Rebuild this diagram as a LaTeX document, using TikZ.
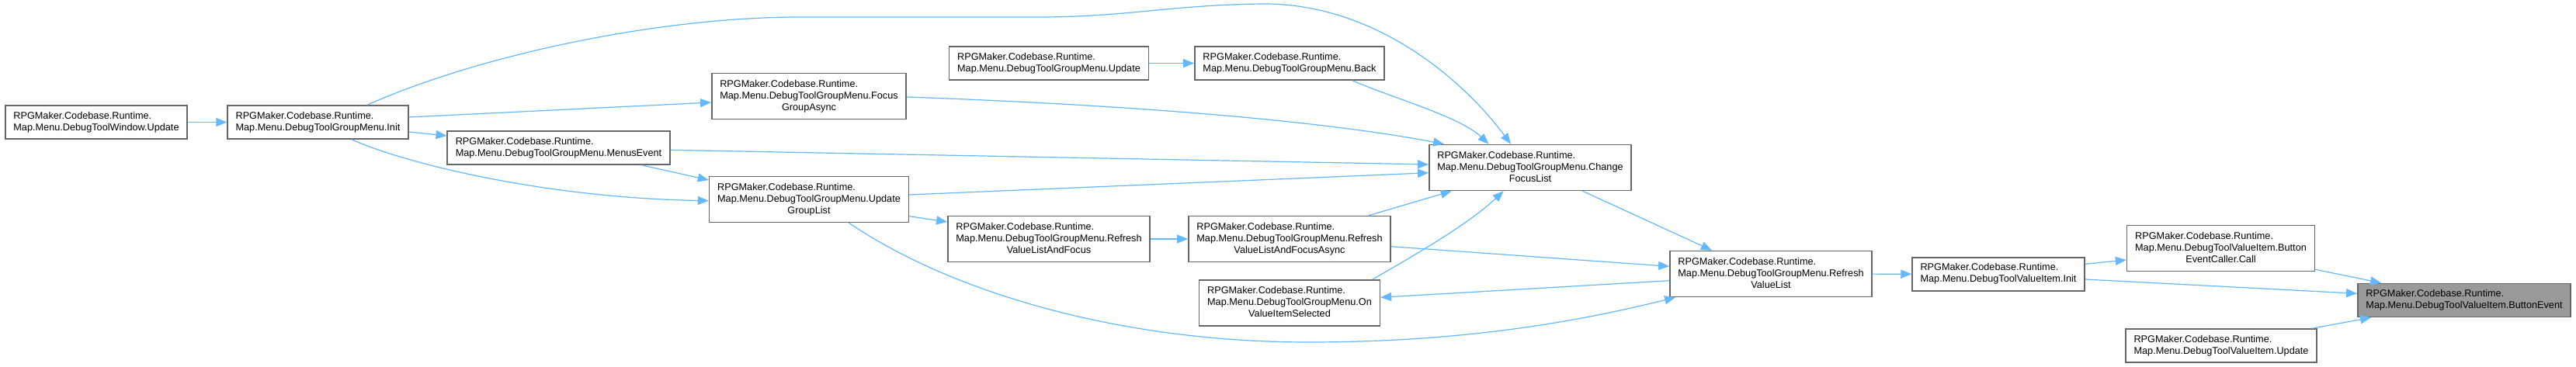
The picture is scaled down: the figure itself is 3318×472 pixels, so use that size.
\documentclass[tikz,border=0pt]{standalone}
\usepackage{fontspec}
\setmainfont{Liberation Sans}
\usepackage{xcolor}
\usepackage{tikz}
\usetikzlibrary{arrows.meta}
\definecolor{edgeblue}{HTML}{63B8FF}
\definecolor{boxgray}{HTML}{666666}
\definecolor{hlgray}{HTML}{999999}
\newcommand{\fnlines}[1]{\begin{tabular}{@{}l@{}}#1\end{tabular}}
\newcommand{\lastc}[1]{\multicolumn{1}{@{}c@{}}{#1}}

\begin{document}
\begin{tikzpicture}[x=1pt,y=-1pt,
    fn/.style={draw=boxgray,line width=1.6pt,fill=white,inner xsep=10.5pt,inner ysep=5pt,minimum height=43pt,font=\fontsize{12.7}{15}\selectfont},
    tall/.style={minimum height=59pt},
    hl/.style={fill=hlgray},
    call/.style={-{Triangle[length=14pt,width=11pt]},line width=1.2pt,draw=edgeblue}]
   \path[use as bounding box,fill=white] (0,0) rectangle (3318,472);
   % callers, left to right
   \node[fn] (wu) at (124,157.5) {\fnlines{RPGMaker.Codebase.Runtime.\\Map.Menu.DebugToolWindow.Update}};
   \node[fn] (init) at (409.5,157.5) {\fnlines{RPGMaker.Codebase.Runtime.\\Map.Menu.DebugToolGroupMenu.Init}};
   \node[fn] (me) at (719.5,190.5) {\fnlines{RPGMaker.Codebase.Runtime.\\Map.Menu.DebugToolGroupMenu.MenusEvent}};
   \node[fn,tall] (fga) at (1042,124) {\fnlines{RPGMaker.Codebase.Runtime.\\Map.Menu.DebugToolGroupMenu.Focus\\\lastc{GroupAsync}}};
   \node[fn,tall] (ugl) at (1042,257) {\fnlines{RPGMaker.Codebase.Runtime.\\Map.Menu.DebugToolGroupMenu.Update\\\lastc{GroupList}}};
   \node[fn] (gmu) at (1351,81.5) {\fnlines{RPGMaker.Codebase.Runtime.\\Map.Menu.DebugToolGroupMenu.Update}};
   \node[fn] (back) at (1661,81.5) {\fnlines{RPGMaker.Codebase.Runtime.\\Map.Menu.DebugToolGroupMenu.Back}};
   \node[fn,tall] (rvlaf) at (1351,308) {\fnlines{RPGMaker.Codebase.Runtime.\\Map.Menu.DebugToolGroupMenu.Refresh\\\lastc{ValueListAndFocus}}};
   \node[fn,tall] (rvlafa) at (1661,308) {\fnlines{RPGMaker.Codebase.Runtime.\\Map.Menu.DebugToolGroupMenu.Refresh\\\lastc{ValueListAndFocusAsync}}};
   \node[fn,tall] (ovis) at (1661,390.5) {\fnlines{RPGMaker.Codebase.Runtime.\\Map.Menu.DebugToolGroupMenu.On\\\lastc{ValueItemSelected}}};
   \node[fn,tall] (cfl) at (1971,216) {\fnlines{RPGMaker.Codebase.Runtime.\\Map.Menu.DebugToolGroupMenu.Change\\\lastc{FocusList}}};
   \node[fn,tall] (rvl) at (2281,353) {\fnlines{RPGMaker.Codebase.Runtime.\\Map.Menu.DebugToolGroupMenu.Refresh\\\lastc{ValueList}}};
   \node[fn] (vii) at (2574,353.3) {\fnlines{RPGMaker.Codebase.Runtime.\\Map.Menu.DebugToolValueItem.Init}};
   \node[fn,tall] (becc) at (2860.5,320) {\fnlines{RPGMaker.Codebase.Runtime.\\Map.Menu.DebugToolValueItem.Button\\\lastc{EventCaller.Call}}};
   \node[fn] (viu) at (2861,445.5) {\fnlines{RPGMaker.Codebase.Runtime.\\Map.Menu.DebugToolValueItem.Update}};
   \node[fn,hl] (be) at (3174,387) {\fnlines{RPGMaker.Codebase.Runtime.\\Map.Menu.DebugToolValueItem.ButtonEvent}};
   % calls
   \draw[call] (wu) -- (init);
   \draw[call] ([xshift=63.5pt]init.north) .. controls (620,70) and (850,22) .. (1030,22) -- (1340,22) .. controls (1450,22) and (1520,5) .. (1634,5) .. controls (1780,8) and (1890,110) .. ([xshift=-25pt]cfl.north);
   \draw[call] ([yshift=6.5pt]init.east) -- ([yshift=-8pt]fga.west);
   \draw[call] ([yshift=-12.5pt]init.east) -- ([yshift=15.5pt]me.west);
   \draw[call] ([xshift=43.5pt]init.south) .. controls (520,210) and (700,255) .. ([yshift=-1.7pt]ugl.west);
   \draw[call] ([yshift=-1pt]fga.east) .. controls (1450,135) and (1700,155) .. ([xshift=20pt]cfl.north west);
   \draw[call] ([yshift=-2.8pt]me.east) -- ([yshift=4pt]cfl.west);
   \draw[call] ([xshift=107pt]me.south) -- ([yshift=25pt]ugl.west);
   \draw[call] ([yshift=6pt]ugl.east) -- ([yshift=-6.7pt]cfl.west);
   \draw[call] ([yshift=-21.7pt]ugl.east) -- ([yshift=22pt]rvlaf.west);
   \draw[call] ([xshift=51.5pt]ugl.south) .. controls (1230,380) and (1450,441) .. (1685,441) .. controls (1900,441) and (2050,410) .. ([xshift=8pt]rvl.south west);
   \draw[call] (gmu) -- (back);
   \draw[call] ([xshift=81pt]back.south) .. controls (1790,125) and (1880,150) .. ([xshift=-53.5pt]cfl.north);
   \draw[call] (rvlaf) -- (rvlafa);
   \draw[call] ([xshift=102pt]rvlafa.north) -- ([xshift=-101.4pt]cfl.south);
   \draw[call] ([yshift=-9.7pt]rvlafa.east) -- ([yshift=9.7pt]rvl.west);
   \draw[call] ([xshift=106.6pt]ovis.north) .. controls (1820,330) and (1890,290) .. ([xshift=-34.4pt]cfl.south);
   \draw[call] ([xshift=67.6pt]cfl.south) -- ([xshift=-76pt]rvl.north);
   \draw[call] ([yshift=-8.7pt]rvl.west) -- ([yshift=7.2pt]ovis.east);
   \draw[call] (rvl) -- (vii);
   \draw[call] ([yshift=13pt]vii.east) -- ([yshift=-15pt]becc.west);
   \draw[call] ([yshift=-6.7pt]vii.east) -- ([yshift=8.7pt]be.west);
   \draw[call] ([yshift=3pt]becc.south east) -- ([xshift=-107pt]be.north);
   \draw[call] ([xshift=117pt]viu.north) -- ([xshift=-120pt]be.south);
  \end{tikzpicture}
\end{document}
